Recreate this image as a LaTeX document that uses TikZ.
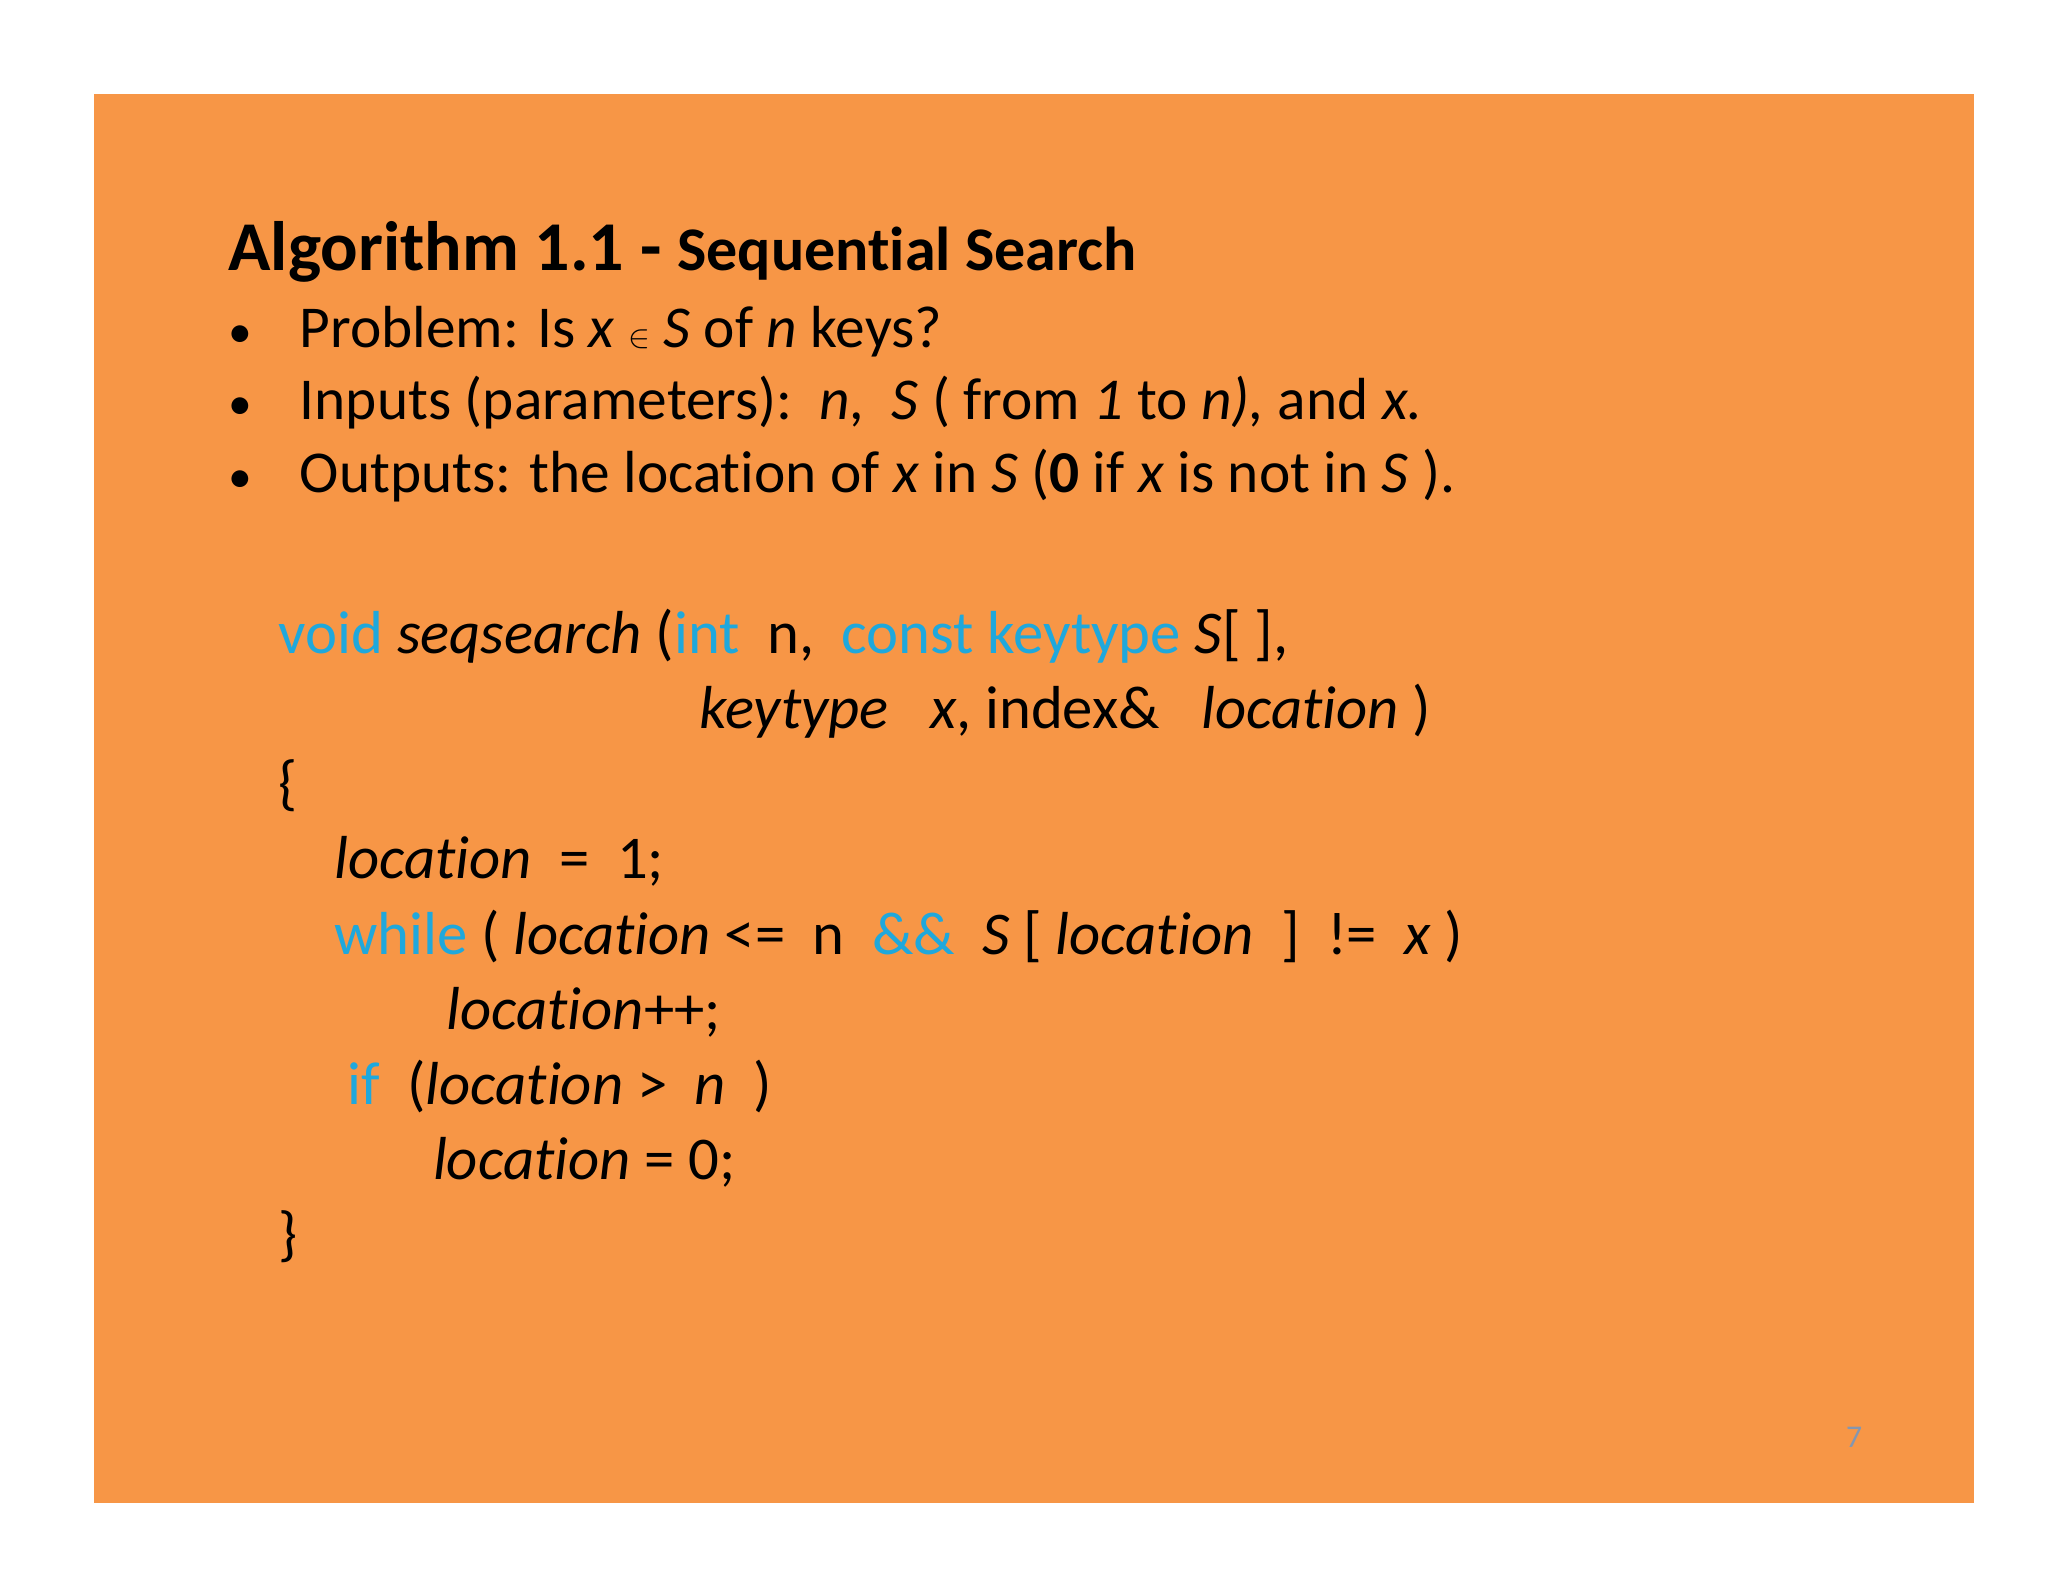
\documentclass[tikz,border=0pt]{standalone}
\usepackage{fontspec}
\setmainfont[Ligatures=NoCommon]{Carlito}
\definecolor{bg}{HTML}{F79646}
\definecolor{kw}{HTML}{1FA8DC}
\definecolor{pg}{HTML}{8496B0}
\newcommand{\kw}[1]{{\color{kw}#1}}
\begin{document}
\begin{tikzpicture}[x=1pt,y=-1pt,
  txt/.style={anchor=base west,inner sep=0pt,font=\fontsize{45}{54}\selectfont},
  code/.style={anchor=base west,inner sep=0pt,font=\fontsize{46}{54}\selectfont}]
\useasboundingbox (0,0) rectangle (1552,1199);
\fill[bg] (71,71) rectangle (1496,1139);
\node[anchor=base west,inner sep=0pt,font=\bfseries\fontsize{53}{60}\selectfont] (title) at (173,205) {Algorithm 1.1 - {\fontsize{47}{54}\selectfont Sequential Search}};
\foreach \y/\n in {263/b1,318/b2,373/b3} \node[anchor=base west,inner sep=0pt,font=\fontsize{36}{40}\selectfont] (d\n) at (173,\y) {•};
\node[txt] (b1) at (227,263) {Problem: Is \textit{x} {\fontsize{55}{60}\selectfont$\in$} \textit{S} of \textit{n} keys?};
\node[txt] (b2) at (227,318) {Inputs (parameters):\ \ \textit{n,\ \ S} ( from \textit{1} to \textit{n}\textit{),} and \textit{x.}};
\node[txt] (b3) at (227,373) {Outputs: the location of \textit{x} in \textit{S} (\textbf{0} if \textit{x} is not in \textit{S} ).};
\node[code] (c1) at (211,495) {\kw{void} \textit{seqsearch} (\kw{int}\ \ n,\ \ \kw{const keytype} \textit{S}[ ],};
\node[code] (c2) at (530,552) {\textit{keytype}\ \ \ \textit{x}, index\&\ \ \ \textit{location} )};
\node[code] (c3) at (211,609) {\{};
\node[code] (c4) at (253,666) {\textit{location}\ \ =\ \ 1;};
\node[code] (c5) at (253,723) {\kw{while} ( \textit{location} <=\ \ n\ \ \kw{\&\&}\ \ \textit{S} [ \textit{location}\ \ ]\ \ !=\ \ \textit{x} )};
\node[code] (c6) at (338,780) {\textit{location}++;};
\node[code] (c7) at (263,837) {\kw{if}\ \ (\textit{location} >\ \ \textit{n}\ \ )};
\node[code] (c8) at (328,894) {\textit{location} = 0;};
\node[code] (c9) at (211,951) {\}};
\node[anchor=base,inner sep=0pt,text=pg,font=\fontsize{24}{26}\selectfont] (pn) at (1405,1097) {7};
\end{tikzpicture}
\end{document}
